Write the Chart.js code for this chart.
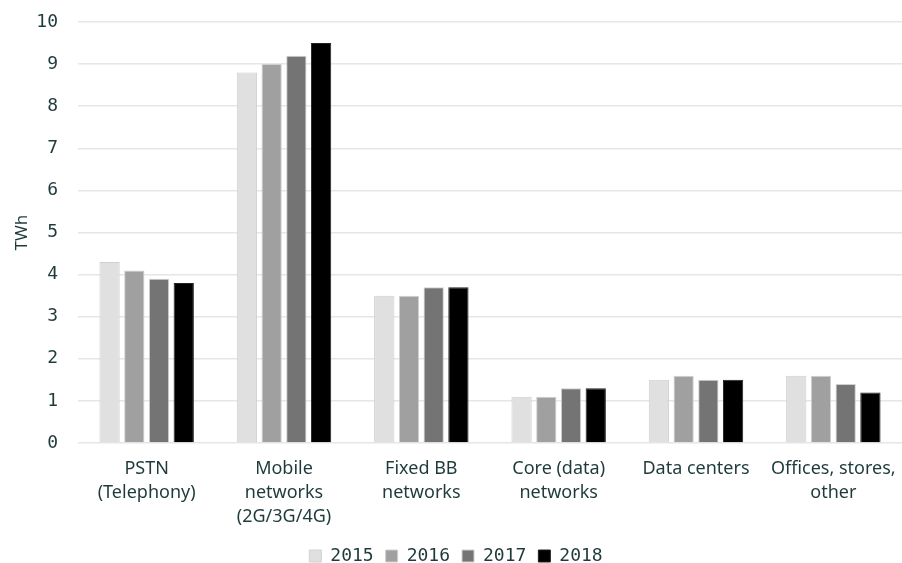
<!DOCTYPE html>
<html lang="en">
<head>
    <meta charset="UTF-8">
    <title>Energy use by network type</title>
    <script src="https://cdn.jsdelivr.net/npm/chart.js"></script>
    <style>
        html, body { margin: 0; padding: 0; background: #fff; }
        #wrap { width: 902px; height: 563px; }
    </style>
</head>
<body>
<div id="wrap"><canvas id="chart"></canvas></div>
<script>
    // chart data
    const categories = [
        ['PSTN', '(Telephony)'],
        ['Mobile', 'networks', '(2G/3G/4G)'],
        ['Fixed BB', 'networks'],
        ['Core (data)', 'networks'],
        ['Data centers'],
        ['Offices, stores,', 'other']
    ];
    const years = ['2015', '2016', '2017', '2018'];
    const values2015 = [4.3, 8.8, 3.5, 1.1, 1.5, 1.6];
    const values2016 = [4.1, 9.0, 3.5, 1.1, 1.6, 1.6];
    const values2017 = [3.9, 9.2, 3.7, 1.3, 1.5, 1.4];
    const values2018 = [3.8, 9.5, 3.7, 1.3, 1.5, 1.2];
    const yTicks = [0, 1, 2, 3, 4, 5, 6, 7, 8, 9, 10];

    const colors = ['#e0e0e0', '#a0a0a0', '#747474', '#000000'];
    const textColor = '#1f3a3a';
    const mono = "'DejaVu Sans Mono', monospace";
    const sans = "'Noto Sans', sans-serif";

    const series = [values2015, values2016, values2017, values2018];

    new Chart(document.getElementById('chart'), {
        type: 'bar',
        data: {
            labels: categories,
            datasets: series.map((vals, i) => ({
                label: years[i],
                data: vals,
                backgroundColor: colors[i],
                borderColor: i === 3 ? '#222' : '#d0d0d0',
                borderWidth: 1,
                barPercentage: 0.82,
                categoryPercentage: 0.72
            }))
        },
        options: {
            responsive: true,
            maintainAspectRatio: false,
            animation: false,
            layout: { padding: { top: 22, right: 0, left: 10, bottom: -12 } },
            plugins: {
                legend: {
                    position: 'bottom',
                    labels: {
                        boxWidth: 12,
                        boxHeight: 12,
                        padding: 12,
                        color: textColor,
                        font: { family: mono, size: 18 }
                    }
                },
                tooltip: { enabled: false }
            },
            scales: {
                x: {
                    grid: { display: false },
                    border: { display: false },
                    ticks: {
                        color: textColor,
                        font: { family: sans, size: 18, lineHeight: 1.333 },
                        maxRotation: 0,
                        padding: 6
                    }
                },
                y: {
                    min: 0,
                    max: 10,
                    afterBuildTicks: axis => { axis.ticks = yTicks.map(v => ({ value: v })); },
                    afterFit: axis => {
                        axis.width = 68;
                        axis.paddingTop = 0;
                        axis.paddingBottom = 0;
                    },
                    grid: { color: '#e6e6e6', lineWidth: 1.5, drawTicks: false },
                    border: { display: false },
                    ticks: {
                        color: textColor,
                        font: { family: mono, size: 18 },
                        padding: 20
                    },
                    title: {
                        display: true,
                        text: 'TWh',
                        color: textColor,
                        font: { family: sans, size: 17 },
                        padding: { top: 2, bottom: 0 }
                    }
                }
            }
        }
    });
</script>
</body>
</html>
